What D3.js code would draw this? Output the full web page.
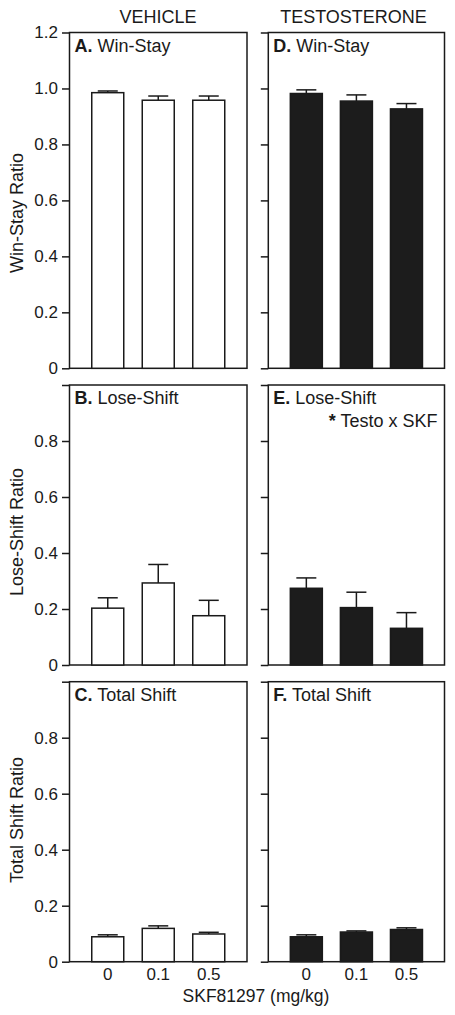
<!DOCTYPE html>
<html>
<head>
<meta charset="utf-8">
<script src="https://cdn.jsdelivr.net/npm/d3@7"></script>
<style>
  html, body { margin: 0; padding: 0; background: #fff; }
  svg { display: block; font-family: "Liberation Sans", Arial, Helvetica, sans-serif; }
</style>
</head>
<body>
<svg id="chart" width="455" height="1015"></svg>
<script>
// ---- Data ----
const doses = ["0", "0.1", "0.5"];
const columnTitles = ["VEHICLE", "TESTOSTERONE"];
const rowTitles = ["Win-Stay Ratio", "Lose-Shift Ratio", "Total Shift Ratio"];
const xTitle = "SKF81297 (mg/kg)";

const winStayVehMean = [0.985, 0.958, 0.958];
const winStayVehSem = [0.006, 0.015, 0.015];
const winStayTestoMean = [0.982, 0.955, 0.927];
const winStayTestoSem = [0.013, 0.022, 0.019];

const loseShiftVehMean = [0.203, 0.293, 0.176];
const loseShiftVehSem = [0.037, 0.066, 0.055];
const loseShiftTestoMean = [0.274, 0.205, 0.131];
const loseShiftTestoSem = [0.037, 0.055, 0.056];

const totalShiftVehMean = [0.089, 0.119, 0.099];
const totalShiftVehSem = [0.007, 0.009, 0.006];
const totalShiftTestoMean = [0.089, 0.106, 0.115];
const totalShiftTestoSem = [0.007, 0.004, 0.006];

const panelLetters = ["A.", "B.", "C.", "D.", "E.", "F."];
const panelNames = ["Win-Stay", "Lose-Shift", "Total Shift"];
const rowMax = [1.2, 1.0, 1.0];
const rowTicks = [
  [0, 0.2, 0.4, 0.6, 0.8, 1.0, 1.2],
  [0, 0.2, 0.4, 0.6, 0.8, 1.0],
  [0, 0.2, 0.4, 0.6, 0.8, 1.0]
];
const rowLabelMax = [1.2, 0.8, 0.8];
const annotation = "Testo x SKF";

// ---- Layout ----
const svg = d3.select("#chart");
const ink = "#1a1a1a";
const colX = [[69.5, 247], [268.3, 444.5]];
const rowY = [[32.5, 368.3], [385, 665], [681.7, 961.7]]; // [top, zero]
const rowTitleCenter = [213, 532, 820];

const means = [
  [winStayVehMean, winStayTestoMean],
  [loseShiftVehMean, loseShiftTestoMean],
  [totalShiftVehMean, totalShiftTestoMean]
];
const sems = [
  [winStayVehSem, winStayTestoSem],
  [loseShiftVehSem, loseShiftTestoSem],
  [totalShiftVehSem, totalShiftTestoSem]
];

// column titles
columnTitles.forEach((t, c) => {
  svg.append("text")
    .attr("x", c === 0 ? 158 : 353.5)
    .attr("y", 22.5)
    .attr("text-anchor", "middle")
    .attr("font-size", 18)
    .attr("fill", ink)
    .text(t);
});

for (let r = 0; r < 3; r++) {
  const [yTop, yZero] = rowY[r];
  const y = d3.scaleLinear().domain([0, rowMax[r]]).range([yZero, yTop]);

  // row title
  svg.append("text")
    .attr("transform", `translate(22.5,${rowTitleCenter[r]}) rotate(-90)`)
    .attr("text-anchor", "middle")
    .attr("font-size", 18)
    .attr("fill", ink)
    .text(rowTitles[r]);

  for (let c = 0; c < 2; c++) {
    const [xl, xr] = colX[c];
    const x = d3.scaleBand().domain(doses).range([xl + 13, xr - 13]).padding(0);
    const bw = 32;
    const g = svg.append("g");

    // y axis
    const axis = d3.axisLeft(y)
      .tickValues(rowTicks[r])
      .tickSize(7.5)
      .tickPadding(4)
      .tickFormat(v => c === 0 && v <= rowLabelMax[r] + 1e-9 ? (v === 0 ? "0" : v.toFixed(1)) : "");
    const ag = g.append("g").attr("transform", `translate(${xl},0)`).call(axis);
    ag.select(".domain").remove();
    ag.selectAll(".tick line").attr("stroke", ink).attr("stroke-width", 1.5);
    ag.selectAll(".tick text")
      .attr("font-size", 17)
      .attr("fill", ink)
      .attr("font-family", "'Liberation Sans', Arial, sans-serif");

    // frame
    g.append("rect")
      .attr("x", xl).attr("y", yTop)
      .attr("width", xr - xl).attr("height", yZero - yTop)
      .attr("fill", "none").attr("stroke", ink).attr("stroke-width", 1.5);

    const m = means[r][c], s = sems[r][c];
    const data = doses.map((d, i) => ({ d, m: m[i], s: s[i] }));

    // error bars (upper only)
    const capW = 20;
    data.forEach(p => {
      const cx = x(p.d) + x.bandwidth() / 2;
      g.append("line")
        .attr("x1", cx).attr("x2", cx)
        .attr("y1", y(p.m)).attr("y2", y(p.m + p.s))
        .attr("stroke", ink).attr("stroke-width", 1.5);
      g.append("line")
        .attr("x1", cx - capW / 2).attr("x2", cx + capW / 2)
        .attr("y1", y(p.m + p.s)).attr("y2", y(p.m + p.s))
        .attr("stroke", ink).attr("stroke-width", 1.5);
    });

    // bars
    g.selectAll("rect.bar").data(data).join("rect")
      .attr("class", "bar")
      .attr("x", p => x(p.d) + x.bandwidth() / 2 - bw / 2)
      .attr("width", bw)
      .attr("y", p => y(p.m))
      .attr("height", p => y(0) - y(p.m))
      .attr("fill", c === 0 ? "#fff" : "#1c1c1c")
      .attr("stroke", ink)
      .attr("stroke-width", 1.5);

    // panel label
    const lbl = g.append("text")
      .attr("x", xl + 5)
      .attr("y", yTop + 19)
      .attr("font-size", 18)
      .attr("fill", ink);
    lbl.append("tspan").attr("font-weight", "bold").text(panelLetters[c * 3 + r]);
    lbl.append("tspan").text(" " + panelNames[r]);

    if (r === 1 && c === 1) {
      const an = g.append("text")
        .attr("x", xr - 7)
        .attr("y", yTop + 42)
        .attr("text-anchor", "end")
        .attr("font-size", 18)
        .attr("fill", ink);
      an.append("tspan").attr("font-weight", "bold").text("*");
      an.append("tspan").text(" " + annotation);
    }

    // x tick labels on bottom row
    if (r === 2) {
      const xa = d3.axisBottom(x).tickSize(0).tickPadding(0);
      const xg = g.append("g").attr("transform", `translate(0,${yZero + 6})`).call(xa);
      xg.select(".domain").remove();
      xg.selectAll(".tick text")
        .attr("font-size", 17)
        .attr("fill", ink)
        .attr("dy", "0.72em")
        .attr("font-family", "'Liberation Sans', Arial, sans-serif");
    }
  }
}

// x title
svg.append("text")
  .attr("x", 256)
  .attr("y", 1001.5)
  .attr("text-anchor", "middle")
  .attr("font-size", 17.5)
  .attr("fill", ink)
  .text(xTitle);
</script>
</body>
</html>
